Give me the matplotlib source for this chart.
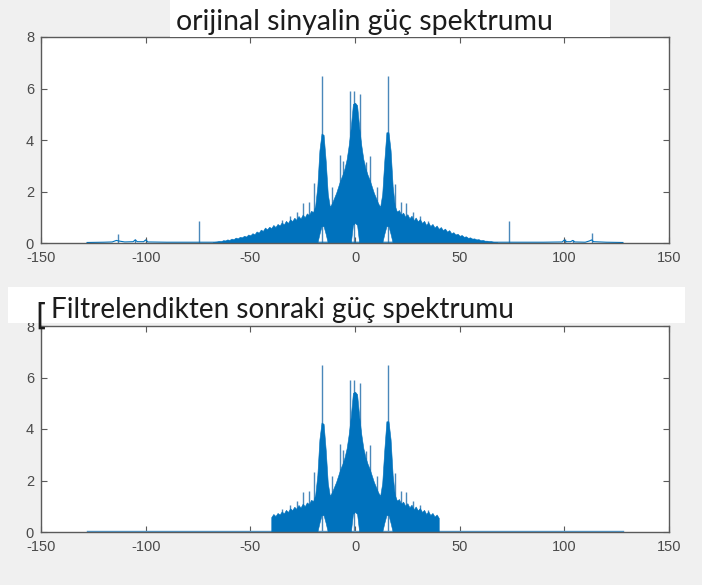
import matplotlib
matplotlib.use("Agg")
import matplotlib.pyplot as plt
import numpy as np
from matplotlib.patches import Rectangle

plt.rcParams["axes.unicode_minus"] = False

# ---------------- data ----------------
TITLE_TOP = "orijinal sinyalin güç spektrumu"
TITLE_BOTTOM = "Filtrelendikten sonraki güç spektrumu"
XTICKS = [-150, -100, -50, 0, 50, 100, 150]
YTICKS = [0, 2, 4, 6, 8]
FILTER_CUTOFF = 40

freq = list(range(-68, 69))
env_top = [
    0.03, 0.05, 0.06, 0.08, 0.07, 0.11, 0.10, 0.14, 0.12, 0.17, 0.15, 0.21,
    0.18, 0.24, 0.22, 0.28, 0.25, 0.33, 0.30, 0.38, 0.34, 0.45, 0.40, 0.52,
    0.47, 0.60, 0.53, 0.63, 0.58, 0.70, 0.62, 0.74, 0.68, 0.80, 0.72, 0.86,
    0.78, 0.92, 0.85, 0.98, 0.90, 1.05, 0.95, 1.10, 1.00, 1.15, 1.08, 1.25,
    1.20, 1.45, 2.20, 3.60, 4.25, 4.20, 3.20, 1.90, 1.40, 1.55, 1.75, 1.95,
    2.20, 2.45, 2.65, 2.90, 3.25, 3.80, 4.50, 5.40,
    5.45,
    5.35, 4.50, 3.80, 3.25, 2.90, 2.65, 2.45, 2.20, 1.95, 1.75, 1.55, 1.40,
    1.90, 3.20, 4.30, 4.30, 3.60, 2.20, 1.45, 1.22,
    1.28, 1.10, 1.18, 1.02, 1.12, 0.96, 1.06, 0.88, 0.99, 0.84, 0.93, 0.78,
    0.86, 0.70, 0.80, 0.66, 0.74, 0.60, 0.68, 0.55, 0.62, 0.50, 0.56, 0.44,
    0.50, 0.38, 0.42, 0.33, 0.36, 0.28, 0.31, 0.24, 0.26, 0.20, 0.22, 0.17,
    0.18, 0.14, 0.15, 0.11, 0.12, 0.09, 0.09, 0.07, 0.07, 0.05, 0.04, 0.03,
]
env_low_x = [-18, -17, -16, -15, -14, -13, -2, -1, 0, 1, 2, 13, 14, 15, 16, 17, 18]
env_low_y = [0.0, 0.35, 0.65, 0.65, 0.35, 0.0, 0.0, 0.7, 0.78, 0.7, 0.0, 0.0, 0.35, 0.65, 0.65, 0.35, 0.0]

tail_x = [-128, -120, -116, -114, -113, -110, -106, -105, -104, -101, -100, -99, -90, -80, -68,
          68, 80, 90, 99, 100, 101, 103, 104, 105, 110, 112, 113, 114, 120, 128]
tail_y = [0.02, 0.03, 0.04, 0.10, 0.08, 0.04, 0.05, 0.12, 0.05, 0.05, 0.12, 0.04, 0.03, 0.03, 0.03,
          0.03, 0.03, 0.03, 0.04, 0.12, 0.05, 0.05, 0.10, 0.04, 0.03, 0.08, 0.12, 0.05, 0.03, 0.02]

spike_x = [-113.4, -105, -100, -74.5, -35, -31, -27.9, -24.8, -22, -19.4, -15.8, -11.1,
           -7.3, -5.6, -2.5, -0.5, 2.2, 5.1, 7.0, 10.4, 15.6, 19.2, 22, 24.5, 27.9, 31, 35,
           73.7, 100.3, 104.3, 113.0]
spike_h = [0.35, 0.15, 0.14, 0.87, 0.90, 1.05, 1.22, 1.54, 1.60, 2.34, 6.47, 2.19,
           3.42, 3.20, 5.90, 5.90, 5.77, 3.15, 3.38, 2.19, 6.47, 2.30, 1.60, 1.54, 1.22, 1.05, 0.85,
           0.87, 0.14, 0.12, 0.38]

# ---------------- styling ----------------
BLUE = "#0072BD"
SPIKE = "#4a88ba"
BG = "#f0f0f0"
AXC = "#5a5a5a"
TXTC = "#4a4a4a"

fig = plt.figure(figsize=(7.02, 5.85), dpi=100, facecolor=BG)
W, H = 702.0, 585.0


def px_rect(x0, y0, x1, y1):
    return [x0 / W, 1 - y1 / H, (x1 - x0) / W, (y1 - y0) / H]


# white title boxes
fig.patches.append(Rectangle((170 / W, 1 - 37 / H), 440 / W, 37 / H, transform=fig.transFigure,
                             facecolor="white", edgecolor="none", zorder=0))
fig.patches.append(Rectangle((8 / W, 1 - 323 / H), 677 / W, 36 / H, transform=fig.transFigure,
                             facecolor="white", edgecolor="none", zorder=0))

ax1 = fig.add_axes(px_rect(41, 37, 669, 243))
ax2 = fig.add_axes(px_rect(41, 326, 669, 532))

fx = np.array(freq, dtype=float)
fy = np.array(env_top)
lowy = np.interp(fx, env_low_x, env_low_y, left=0, right=0)
sx = np.array(spike_x)
sh = np.array(spike_h)


def style(ax):
    ax.set_xlim(-150, 150)
    ax.set_ylim(0, 8)
    ax.set_xticks(XTICKS)
    ax.set_yticks(YTICKS)
    ax.set_facecolor("white")
    for s in ax.spines.values():
        s.set_color(AXC)
        s.set_linewidth(1.0)
    ax.tick_params(direction="in", length=4, width=0.8, color=AXC, top=True, right=True,
                   labelsize=10.5, labelcolor=TXTC)
    ax.tick_params(axis="x", pad=6)
    ax.tick_params(axis="y", pad=5)
    for lab in ax.get_xticklabels() + ax.get_yticklabels():
        lab.set_fontfamily("Liberation Sans")


# top: original
ax1.plot(tail_x, tail_y, color=BLUE, lw=0.8, zorder=2)
ax1.vlines(sx, 0, sh, color=SPIKE, lw=1.0, zorder=1.5)
ax1.fill_between(fx, lowy, fy, color=BLUE, lw=0.4, edgecolor=BLUE, zorder=2)
style(ax1)

# bottom: filtered
m = np.abs(fx) <= FILTER_CUTOFF
ax2.plot([-128, 128], [0.03, 0.03], color="#4f9ad0", lw=1.0, zorder=2)
ms = np.abs(sx) <= FILTER_CUTOFF
ax2.vlines(sx[ms], 0, sh[ms], color=SPIKE, lw=1.0, zorder=1.5)
ax2.fill_between(fx[m], lowy[m], fy[m], color=BLUE, lw=0.4, edgecolor=BLUE, zorder=2)
style(ax2)

# titles
t1 = fig.text(176 / W, 1 - 30 / H, TITLE_TOP, fontsize=20, family="Lato", color="#1c1c1c",
              ha="left", va="baseline", zorder=5)
t2 = fig.text(51 / W, 1 - 318 / H, TITLE_BOTTOM, fontsize=20, family="Lato", color="#1c1c1c",
              ha="left", va="baseline", zorder=5)
fig.text(35 / W, 1 - 325 / H, "[", fontsize=22, family="DejaVu Sans", color="#1c1c1c",
         ha="left", va="baseline", zorder=6)

fig.canvas.draw()
r = fig.canvas.get_renderer()
for t, target in ((t1, 377.0), (t2, 464.0)):
    bb = t.get_window_extent(r)
    t.set_fontsize(t.get_fontsize() * target / bb.width)

fig.savefig("out.png", dpi=100, facecolor=BG)
